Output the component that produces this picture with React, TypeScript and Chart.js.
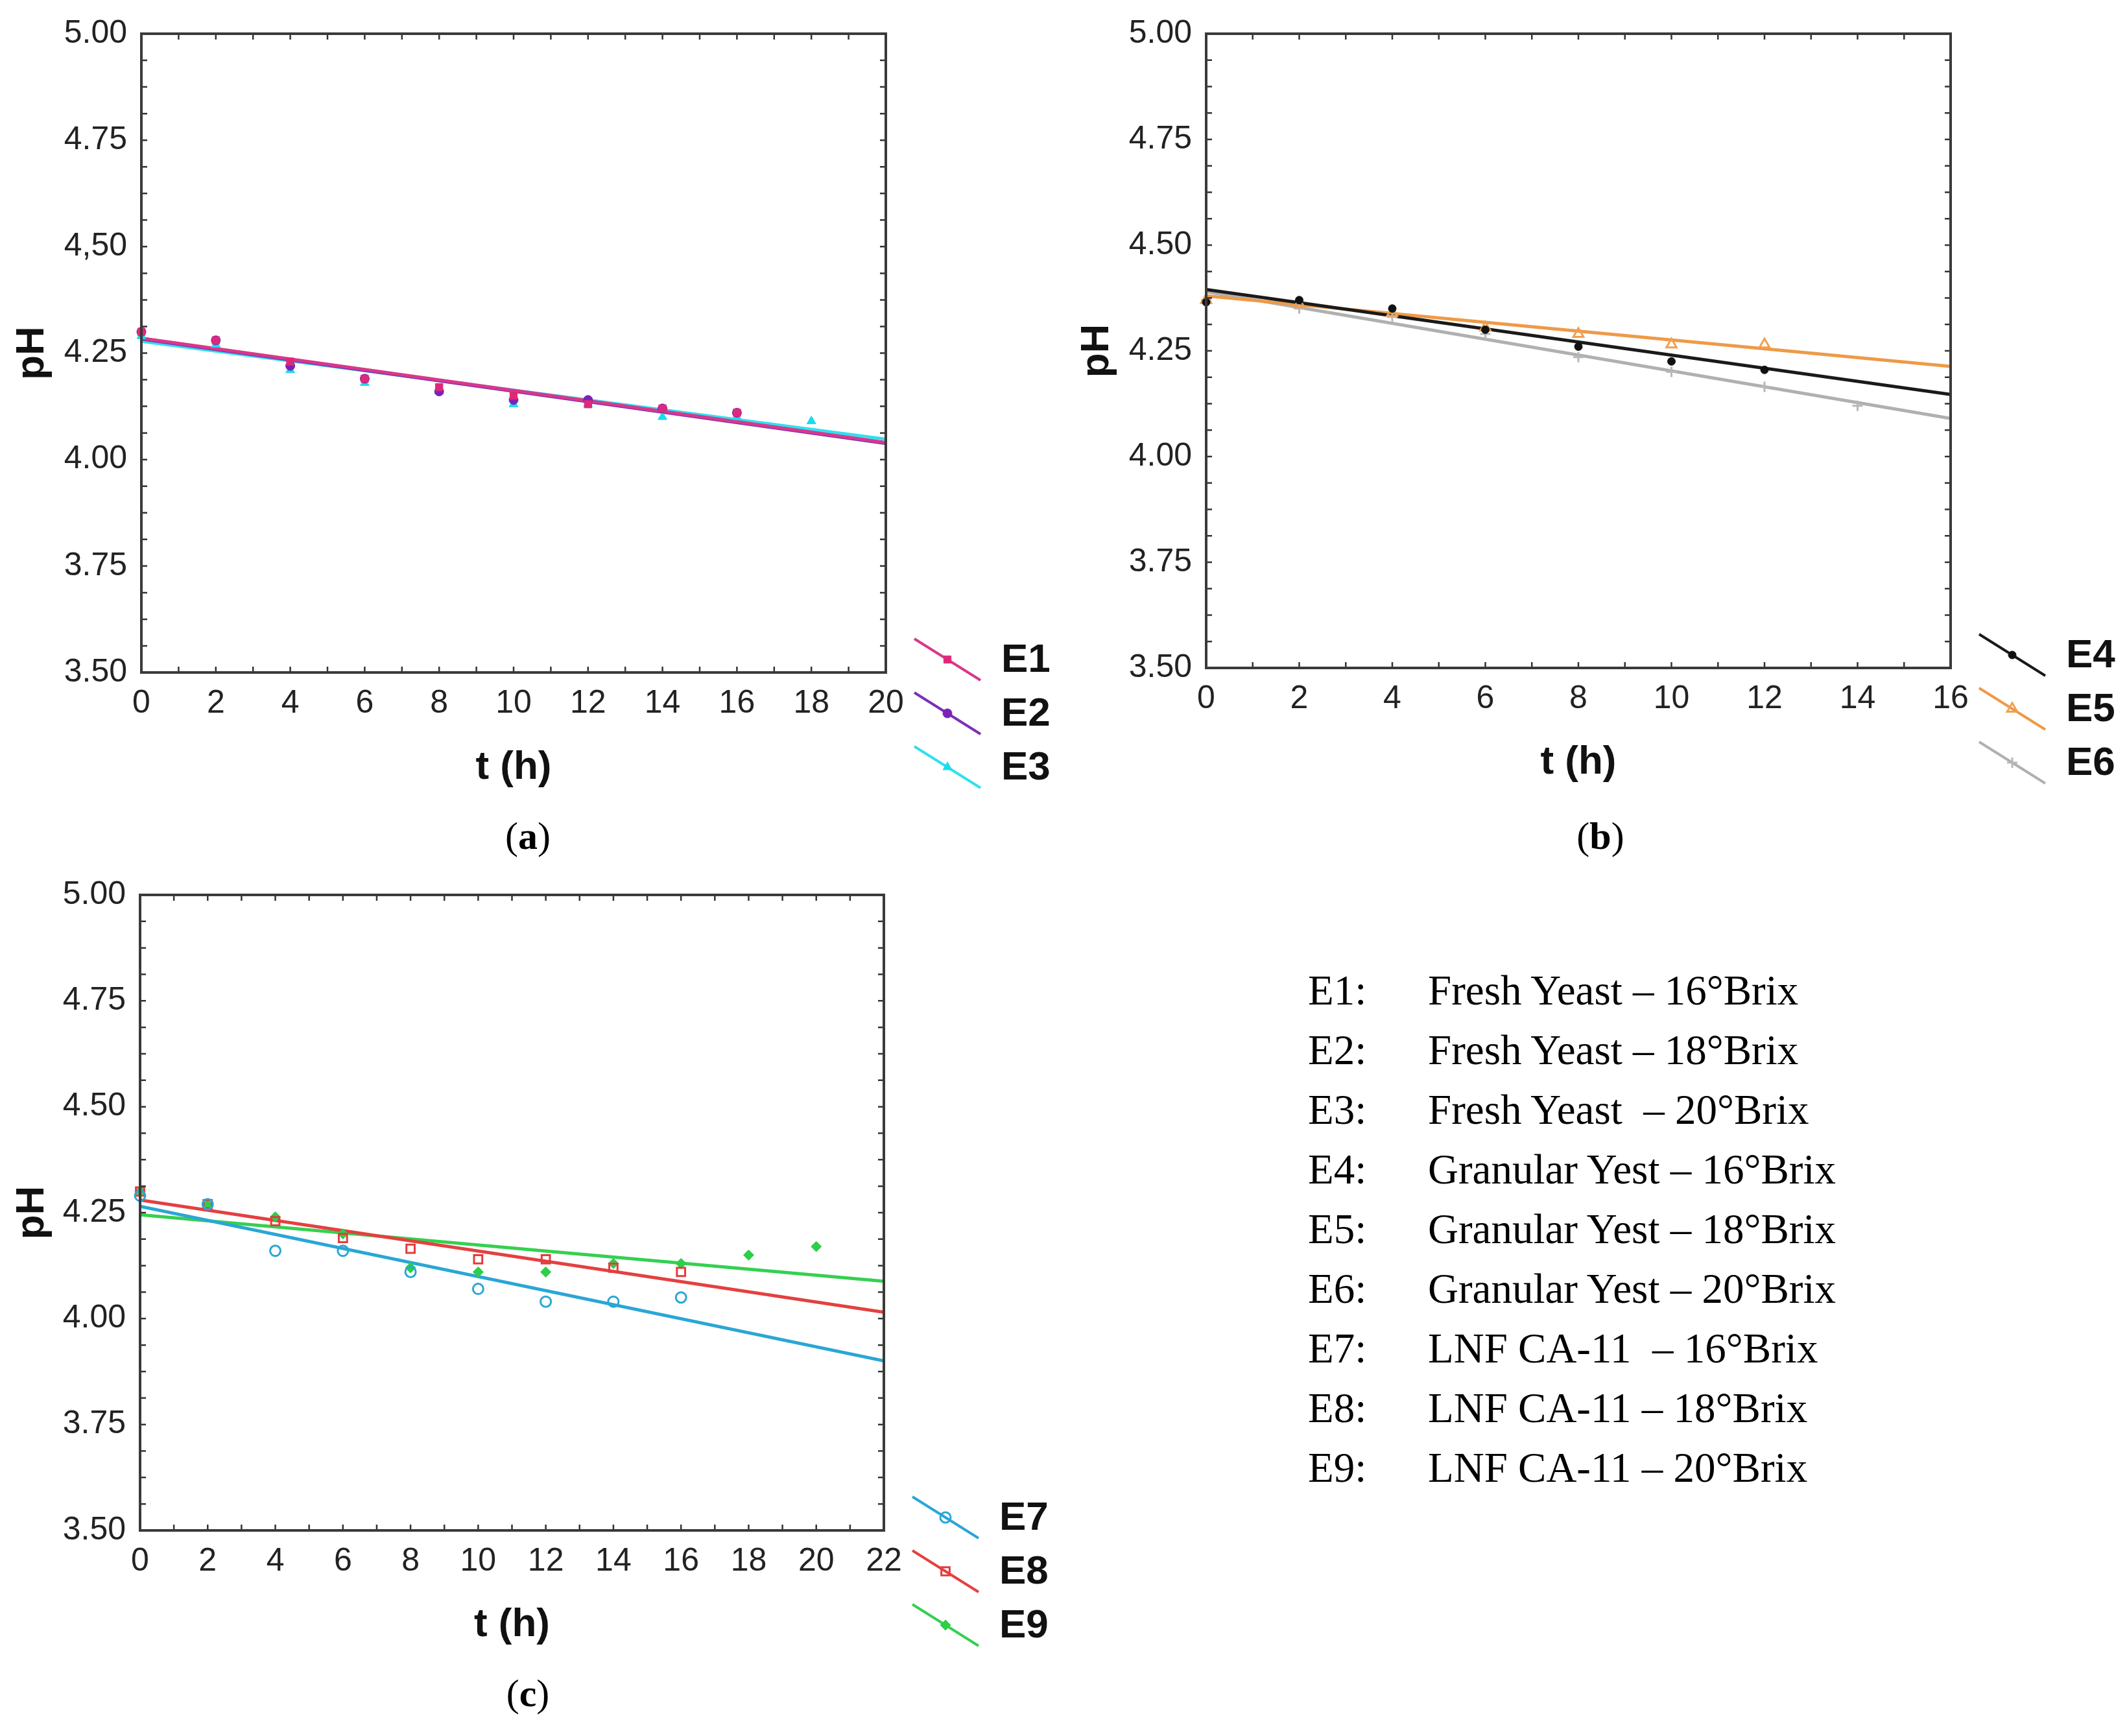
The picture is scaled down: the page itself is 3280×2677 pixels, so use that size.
import { useEffect, useRef } from "react"
import { Chart, registerables } from "chart.js"
import { drawPoint } from "chart.js/helpers"

Chart.register(...registerables)

// tick labels (panel a prints 4,50 with a comma)
const yTickValues = [3.5, 3.75, 4.0, 4.25, 4.5, 4.75, 5.0]
const yTickLabelsA = ["3.50", "3.75", "4.00", "4.25", "4,50", "4.75", "5.00"]
const yTickLabelsBC = ["3.50", "3.75", "4.00", "4.25", "4.50", "4.75", "5.00"]

// panel (a) — fresh yeast
const tA = [0, 2, 4, 6, 8, 10, 12, 14, 16]
const tA3 = [0, 2, 4, 6, 8, 10, 12, 14, 16, 18]
const phE1 = [4.3, 4.28, 4.23, 4.19, 4.17, 4.15, 4.13, 4.12, 4.11]
const phE2 = [4.3, 4.28, 4.22, 4.19, 4.16, 4.14, 4.14, 4.12, 4.11]
const phE3 = [4.29, 4.27, 4.21, 4.18, 4.16, 4.13, 4.13, 4.1, 4.1, 4.09]
const fitE1 = [4.285, 4.04]
const fitE2 = [4.283, 4.038]
const fitE3 = [4.278, 4.048]

// panel (b) — granular yeast
const tB = [0, 2, 4, 6, 8, 10, 12]
const tB6 = [0, 2, 4, 6, 8, 10, 12, 14]
const phE4 = [4.365, 4.37, 4.35, 4.3, 4.26, 4.225, 4.205]
const phE5 = [4.37, 4.36, 4.34, 4.305, 4.29, 4.265, 4.265]
const phE6 = [4.37, 4.35, 4.33, 4.29, 4.235, 4.2, 4.165, 4.12]
const fitE4 = [4.395, 4.147]
const fitE5 = [4.38, 4.213]
const fitE6 = [4.39, 4.09]

// panel (c) — LNF CA-11
const tC = [0, 2, 4, 6, 8, 10, 12, 14, 16]
const tC9 = [0, 2, 4, 6, 8, 10, 12, 14, 16, 18, 20]
const phE7 = [4.29, 4.27, 4.16, 4.16, 4.11, 4.07, 4.04, 4.04, 4.05]
const phE8 = [4.3, 4.27, 4.23, 4.19, 4.165, 4.14, 4.14, 4.12, 4.11]
const phE9 = [4.3, 4.27, 4.24, 4.2, 4.12, 4.11, 4.11, 4.13, 4.13, 4.15, 4.17]
const fitE7 = [4.265, 3.9]
const fitE8 = [4.28, 4.015]
const fitE9 = [4.245, 4.088]

const descCodes = ["E1:", "E2:", "E3:", "E4:", "E5:", "E6:", "E7:", "E8:", "E9:"]
const descTexts = [
  "Fresh Yeast – 16°Brix",
  "Fresh Yeast – 18°Brix",
  "Fresh Yeast  – 20°Brix",
  "Granular Yest – 16°Brix",
  "Granular Yest – 18°Brix",
  "Granular Yest – 20°Brix",
  "LNF CA-11  – 16°Brix",
  "LNF CA-11 – 18°Brix",
  "LNF CA-11 – 20°Brix",
]

interface SeriesDef {
  label: string
  t: number[]
  ph: number[]
  fit: number[]
  color: string
  lineColor: string
  style: string
  radius: number
  filled: boolean
}

interface PanelDef {
  cx: number
  cy: number
  cw: number
  ch: number
  plotLeft: number
  plotTop: number
  plotRight: number
  plotBottom: number
  titleY: number
  xMax: number
  yLabels: string[]
  series: SeriesDef[]
}

const panels: PanelDef[] = [
  {
    cx: 0, cy: 0, cw: 1660, ch: 1250,
    plotLeft: 218, plotTop: 40, plotRight: 1366, plotBottom: 1037, titleY: 1184,
    xMax: 20, yLabels: yTickLabelsA,
    series: [
      { label: "E1", t: tA, ph: phE1, fit: fitE1, color: "#e0287a", lineColor: "#d8388a", style: "rect", radius: 8, filled: true },
      { label: "E2", t: tA, ph: phE2, fit: fitE2, color: "#7b22b8", lineColor: "#7a30b6", style: "circle", radius: 7, filled: true },
      { label: "E3", t: tA3, ph: phE3, fit: fitE3, color: "#18dcef", lineColor: "#30e0f0", style: "triangle", radius: 8, filled: true },
    ],
  },
  {
    cx: 1642, cy: 0, cw: 1638, ch: 1250,
    plotLeft: 1860, plotTop: 37, plotRight: 3008, plotBottom: 1030, titleY: 1176,
    xMax: 16, yLabels: yTickLabelsBC,
    series: [
      { label: "E4", t: tB, ph: phE4, fit: fitE4, color: "#111111", lineColor: "#1a1a1a", style: "circle", radius: 6, filled: true },
      { label: "E5", t: tB, ph: phE5, fit: fitE5, color: "#f0a050", lineColor: "#ee9a48", style: "triangle", radius: 9, filled: false },
      { label: "E6", t: tB6, ph: phE6, fit: fitE6, color: "#b8b8b8", lineColor: "#b0b0b0", style: "cross", radius: 8, filled: false },
    ],
  },
  {
    cx: 0, cy: 1328, cw: 1660, ch: 1250,
    plotLeft: 216, plotTop: 1366, plotRight: 1363, plotBottom: 2360, titleY: 2506,
    xMax: 22, yLabels: yTickLabelsBC,
    series: [
      { label: "E7", t: tC, ph: phE7, fit: fitE7, color: "#2aa6d6", lineColor: "#2aa6d6", style: "circle", radius: 8, filled: false },
      { label: "E8", t: tC, ph: phE8, fit: fitE8, color: "#e33c3c", lineColor: "#e44040", style: "rect", radius: 9, filled: false },
      { label: "E9", t: tC9, ph: phE9, fit: fitE9, color: "#2ccf48", lineColor: "#35d050", style: "rectRot", radius: 8, filled: true },
    ],
  },
]

const SANS = "'Liberation Sans', Arial, sans-serif"

// box frame with small inward ticks on all four sides
const framePlugin = {
  id: "frame",
  afterDatasetsDraw(chart: any) {
    const { ctx, chartArea: a, scales } = chart
    const xs = scales.x
    const ys = scales.y
    const tl = 9
    ctx.save()
    ctx.strokeStyle = "#333"
    ctx.lineWidth = 2.5
    ctx.beginPath()
    for (let v = xs.min; v <= xs.max + 1e-9; v += 1) {
      const px = xs.getPixelForValue(v)
      ctx.moveTo(px, a.bottom)
      ctx.lineTo(px, a.bottom - tl)
      ctx.moveTo(px, a.top)
      ctx.lineTo(px, a.top + tl)
    }
    for (let v = ys.min; v <= ys.max + 1e-9; v += 0.0625) {
      const py = ys.getPixelForValue(v)
      ctx.moveTo(a.left, py)
      ctx.lineTo(a.left + tl, py)
      ctx.moveTo(a.right, py)
      ctx.lineTo(a.right - tl, py)
    }
    ctx.stroke()
    ctx.lineWidth = 4
    ctx.strokeStyle = "#3a3a3a"
    ctx.strokeRect(a.left, a.top, a.right - a.left, a.bottom - a.top)
    ctx.restore()
  },
}

// legend at the lower right: diagonal line with marker, bold label
const sideLegendPlugin = {
  id: "sideLegend",
  afterDraw(chart: any) {
    const { ctx, chartArea: a } = chart
    const items = chart.data.datasets.filter((d: any) => d.legendLabel)
    ctx.save()
    items.forEach((d: any, i: number) => {
      const cy = a.bottom - 20 + i * 83
      const x0 = a.right + 44
      const x1 = a.right + 146
      ctx.strokeStyle = d.borderColor
      ctx.lineWidth = 4
      ctx.beginPath()
      ctx.moveTo(x0, cy - 32)
      ctx.lineTo(x1, cy + 32)
      ctx.stroke()
      ctx.fillStyle = d.backgroundColor
      ctx.strokeStyle = d.pointBorderColor
      ctx.lineWidth = d.pointBorderWidth
      drawPoint(ctx, { pointStyle: d.pointStyle, radius: d.pointRadius, borderWidth: d.pointBorderWidth, rotation: 0 } as any, (x0 + x1) / 2, cy)
      ctx.fillStyle = "#111"
      ctx.font = `bold 62px ${SANS}`
      ctx.textAlign = "left"
      ctx.textBaseline = "middle"
      ctx.fillText(d.legendLabel, a.right + 178, cy + 2)
    })
    ctx.restore()
  },
}

function Panel({ p }: { p: PanelDef }) {
  const canvasRef = useRef<HTMLCanvasElement>(null)

  useEffect(() => {
    if (!canvasRef.current) return
    const ctx = canvasRef.current.getContext("2d")
    if (!ctx) return

    const fits = p.series.map((s) => ({
      data: [
        { x: 0, y: s.fit[0] },
        { x: p.xMax, y: s.fit[1] },
      ],
      showLine: true,
      borderColor: s.lineColor,
      borderWidth: 5,
      pointRadius: 0,
      order: 2,
    }))

    const points = p.series.map((s) => ({
      legendLabel: s.label,
      data: s.t.map((t, i) => ({ x: t, y: s.ph[i] })),
      showLine: false,
      pointStyle: s.style,
      pointRadius: s.radius,
      pointBorderWidth: s.filled ? 1 : 3,
      pointBorderColor: s.color,
      pointBackgroundColor: s.filled ? s.color : "rgba(255,255,255,0)",
      backgroundColor: s.filled ? s.color : "rgba(255,255,255,0)",
      borderColor: s.lineColor,
      clip: false,
      order: 1,
    }))

    const chart = new Chart(ctx, {
      type: "scatter",
      data: { datasets: [...points, ...fits] as any },
      options: {
        animation: false,
        responsive: false,
        devicePixelRatio: 1,
        layout: {
          padding: { top: p.plotTop - p.cy, right: p.cx + p.cw - p.plotRight, left: 0, bottom: 0 },
        },
        plugins: { legend: { display: false }, tooltip: { enabled: false } },
        scales: {
          x: {
            type: "linear",
            min: 0,
            max: p.xMax,
            afterFit: (s: any) => {
              s.height = p.cy + p.ch - p.plotBottom
            },
            grid: { display: false, drawTicks: false },
            border: { display: false },
            ticks: {
              stepSize: 2,
              padding: 18,
              color: "#222",
              font: { family: SANS, size: 50 },
              callback: (v: any) => String(v),
            },
            title: {
              display: true,
              text: "t (h)",
              color: "#111",
              font: { family: SANS, size: 62, weight: "bold" },
              padding: { top: 0, bottom: p.cy + p.ch - p.titleY - 37.2 },
            },
          },
          y: {
            type: "linear",
            min: 3.5,
            max: 5.0,
            afterFit: (s: any) => {
              s.width = p.plotLeft - p.cx
            },
            grid: { display: false, drawTicks: false },
            border: { display: false },
            ticks: {
              stepSize: 0.25,
              padding: 22,
              color: "#222",
              font: { family: SANS, size: 50 },
              callback: (v: any) => p.yLabels[yTickValues.indexOf(Number(v))],
            },
            title: {
              display: true,
              text: "pH",
              color: "#111",
              font: { family: SANS, size: 62, weight: "bold" },
              padding: { top: 13, bottom: 0 },
            },
          },
        },
      } as any,
      plugins: [framePlugin, sideLegendPlugin],
    })

    return () => {
      chart.destroy()
    }
  }, [p])

  return (
    <canvas
      ref={canvasRef}
      width={p.cw}
      height={p.ch}
      style={{ position: "absolute", left: p.cx, top: p.cy, width: p.cw, height: p.ch }}
    />
  )
}

const captionStyle = {
  position: "absolute" as const,
  width: 400,
  textAlign: "center" as const,
  fontFamily: "'Liberation Serif', 'Times New Roman', serif",
  fontSize: 60,
  lineHeight: "70px",
  color: "#000",
}

export default function App() {
  return (
    <div style={{ position: "absolute", left: 0, top: 0, width: 3280, height: 2677, background: "#fff", overflow: "hidden" }}>
      {panels.map((p, i) => (
        <Panel key={i} p={p} />
      ))}
      <div style={{ ...captionStyle, left: 614, top: 1254 }}>
        (<b>a</b>)
      </div>
      <div style={{ ...captionStyle, left: 2268, top: 1254 }}>
        (<b>b</b>)
      </div>
      <div style={{ ...captionStyle, left: 614, top: 2576 }}>
        (<b>c</b>)
      </div>
      {descCodes.map((code, i) => (
        <div
          key={code}
          style={{
            position: "absolute",
            left: 2017,
            top: 1481 + i * 92,
            height: 92,
            lineHeight: "92px",
            fontFamily: "'Liberation Serif', 'Times New Roman', serif",
            fontSize: 65,
            color: "#000",
            whiteSpace: "pre",
          }}
        >
          <span style={{ position: "absolute", left: 0 }}>{code}</span>
          <span style={{ position: "absolute", left: 185 }}>{descTexts[i]}</span>
        </div>
      ))}
    </div>
  )
}
